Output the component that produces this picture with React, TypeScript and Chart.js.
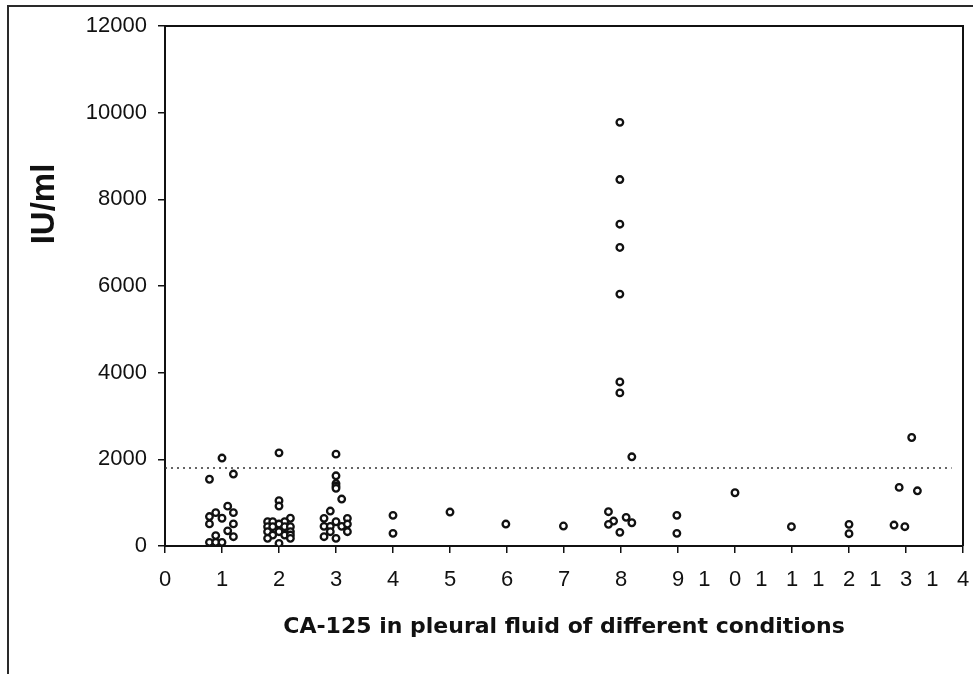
import React, { useEffect, useRef } from "react";
import { Chart, registerables } from "chart.js";

Chart.register(...registerables);

// x tick values (conditions 0..14)
const xTicks = [0, 1, 2, 3, 4, 5, 6, 7, 8, 9, 10, 11, 12, 13, 14];
const yTicks = [0, 2000, 4000, 6000, 8000, 10000, 12000];

// Points: [x position (condition + jitter), IU/ml]
const cond1: [number, number][] = [
  [1.0, 2030], [0.78, 1540], [1.2, 1660], [1.1, 920], [0.89, 770], [0.78, 680],
  [1.2, 770], [1.0, 640], [0.78, 510], [1.2, 510], [1.1, 350], [0.89, 240],
  [1.2, 215], [0.78, 84], [0.89, 84], [1.0, 84],
];
const cond2: [number, number][] = [
  [2.0, 2150], [2.0, 1045], [2.0, 922], [2.2, 640], [1.8, 560], [1.89, 560],
  [2.1, 560], [2.0, 507], [1.8, 445], [1.89, 445], [2.1, 445], [2.2, 445],
  [1.8, 330], [2.0, 330], [2.2, 330], [1.89, 253], [2.1, 253], [2.2, 253],
  [1.8, 177], [2.2, 177], [2.0, 61],
];
const cond3: [number, number][] = [
  [3.0, 2120], [3.0, 1620], [3.0, 1440], [3.0, 1380], [3.0, 1330], [3.1, 1083],
  [2.9, 806], [2.79, 638], [3.2, 638], [3.0, 560], [2.79, 453], [2.9, 453],
  [3.1, 453], [3.2, 507], [2.9, 330], [3.2, 330], [2.79, 215], [3.0, 177],
];
const cond4: [number, number][] = [[4.0, 707], [4.0, 292]];
const cond5: [number, number][] = [[5.0, 783]];
const cond6: [number, number][] = [[5.98, 507]];
const cond7: [number, number][] = [[6.99, 461]];
const cond8: [number, number][] = [
  [7.98, 9777], [7.98, 8456], [7.98, 7426], [7.98, 6889], [7.98, 5813],
  [7.98, 3786], [7.98, 3533], [8.19, 2058], [7.78, 791], [7.87, 576],
  [7.78, 500], [8.09, 661], [8.19, 537], [7.98, 315],
];
const cond9: [number, number][] = [[8.98, 707], [8.98, 292]];
const cond10: [number, number][] = [[10.0, 1229]];
const cond11: [number, number][] = [[10.99, 445]];
const cond12: [number, number][] = [[12.0, 500], [12.0, 284]];
const cond13: [number, number][] = [
  [13.1, 2504], [12.88, 1352], [13.2, 1274], [12.79, 484], [12.98, 445],
];

const cutoffValue = 1800;
const cutoffRange = [0, 13.8];

const xTitle = "CA-125 in pleural fluid of different conditions";
const yTitle = "IU/ml";

const FONT = "'Liberation Sans', Arial, Helvetica, sans-serif";
const WIDE = "'DejaVu Sans', 'Liberation Sans', sans-serif";

export default function App() {
  const ref = useRef<HTMLCanvasElement | null>(null);

  useEffect(() => {
    if (!ref.current) return;
    const allPoints = [
      cond1, cond2, cond3, cond4, cond5, cond6, cond7,
      cond8, cond9, cond10, cond11, cond12, cond13,
    ].flat().map(([x, y]) => ({ x, y }));

    const decor = {
      id: "decor",
      beforeDraw(chart: any) {
        const ctx = chart.ctx;
        ctx.save();
        ctx.strokeStyle = "#2a2a2a";
        ctx.lineWidth = 2;
        ctx.beginPath();
        ctx.moveTo(8, 674);
        ctx.lineTo(8, 6);
        ctx.lineTo(973, 6);
        ctx.stroke();
        ctx.restore();
      },
      afterDraw(chart: any) {
        const ctx = chart.ctx;
        const a = chart.chartArea;
        ctx.save();
        ctx.strokeStyle = "#111";
        ctx.lineWidth = 2;
        ctx.beginPath();
        ctx.moveTo(a.left, a.top);
        ctx.lineTo(a.right, a.top);
        ctx.lineTo(a.right, a.bottom);
        ctx.stroke();
        // y axis title
        ctx.translate(45, 204);
        ctx.rotate(-Math.PI / 2);
        ctx.fillStyle = "#111";
        ctx.font = `bold 33px ${FONT}`;
        ctx.textAlign = "center";
        ctx.textBaseline = "middle";
        ctx.fillText(yTitle, 0, 0);
        ctx.restore();
      },
    };

    const chart = new Chart(ref.current, {
      type: "scatter",
      data: {
        datasets: [
          {
            data: allPoints,
            pointStyle: "circle",
            pointRadius: 3.3,
            pointBorderWidth: 2.3,
            pointBorderColor: "#111",
            pointBackgroundColor: "#fff",
            showLine: false,
          } as any,
          {
            data: [
              { x: cutoffRange[0], y: cutoffValue },
              { x: cutoffRange[1], y: cutoffValue },
            ],
            showLine: true,
            borderColor: "#333",
            borderWidth: 1.6,
            borderDash: [2, 4],
            pointRadius: 0,
          } as any,
        ],
      },
      options: {
        animation: false,
        responsive: false,
        layout: { padding: { top: 26, right: 10, left: 0, bottom: 0 } },
        plugins: {
          legend: { display: false },
          tooltip: { enabled: false },
        },
        scales: {
          x: {
            type: "linear",
            min: 0,
            max: 14,
            afterBuildTicks: (scale: any) => {
              scale.ticks = xTicks.map((v) => ({ value: v }));
            },
            afterFit: (scale: any) => {
              scale.height = 128;
              scale.paddingLeft = 0;
              scale.paddingRight = 0;
            },
            grid: {
              display: true,
              drawOnChartArea: false,
              drawTicks: true,
              tickLength: 7,
              color: "#111",
              lineWidth: 1.5,
            },
            border: { display: true, color: "#111", width: 2 },
            ticks: {
              autoSkip: false,
              maxRotation: 0,
              minRotation: 0,
              padding: 14,
              color: "#111",
              font: { size: 22, family: FONT },
              callback: (v: any) => {
                const n = Number(v);
                if (n < 10) return String(n);
                return "1   " + String(n - 10) + "     ";
              },
            },
            title: {
              display: true,
              text: xTitle,
              color: "#111",
              font: { size: 22, weight: "bold", family: WIDE, lineHeight: 1.2 },
              padding: { top: 0, bottom: 34 },
            },
          },
          y: {
            type: "linear",
            min: 0,
            max: 12000,
            afterBuildTicks: (scale: any) => {
              scale.ticks = yTicks.map((v) => ({ value: v }));
            },
            afterFit: (scale: any) => {
              scale.width = 165;
            },
            grid: {
              display: true,
              drawOnChartArea: false,
              drawTicks: true,
              tickLength: 7,
              color: "#111",
              lineWidth: 1.5,
            },
            border: { display: true, color: "#111", width: 2 },
            ticks: {
              padding: 11,
              color: "#111",
              font: { size: 22, family: FONT },
              callback: (v: any) => String(v),
            },
          },
        },
      } as any,
      plugins: [decor],
    });
    return () => chart.destroy();
  }, []);

  return (
    <div style={{ position: "absolute", left: 0, top: 0, width: 973, height: 674, background: "#fff" }}>
      <canvas ref={ref} width={973} height={674} style={{ display: "block" }} />
    </div>
  );
}
